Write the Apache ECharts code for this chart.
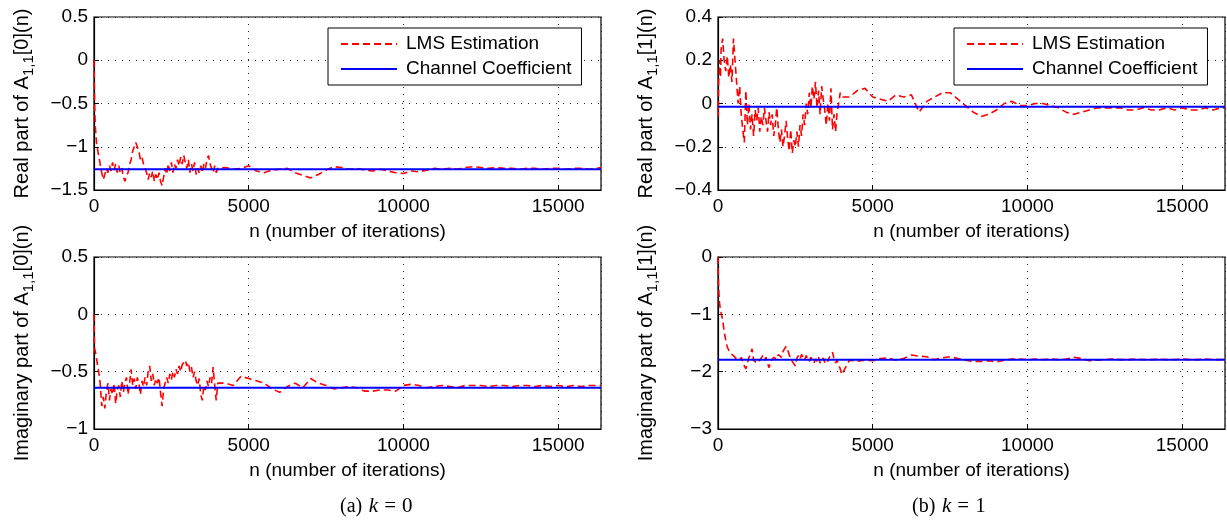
<!DOCTYPE html>
<html>
<head>
<meta charset="utf-8">
<script src="https://cdn.jsdelivr.net/npm/echarts@6/dist/echarts.min.js"></script>
<style>
  html, body { margin: 0; padding: 0; background: #fff; }
  #chart { width: 1227px; height: 527px; }
</style>
</head>
<body>
<div id="chart"></div>
<script>
// iteration index n (shared by all four panels)
const iters = [
  0, 10, 20, 40, 60, 80, 100,
  150, 200, 250, 300, 350, 400, 450, 500, 550, 600,
  650, 700, 750, 800, 850, 900, 950, 1000, 1050, 1100,
  1150, 1200, 1250, 1300, 1350, 1400, 1450, 1500, 1550, 1600,
  1650, 1700, 1750, 1800, 1850, 1900, 1950, 2000, 2050, 2100,
  2150, 2200, 2250, 2300, 2350, 2400, 2450, 2500, 2550, 2600,
  2650, 2700, 2750, 2800, 2850, 2900, 2950, 3000, 3050, 3100,
  3150, 3200, 3250, 3300, 3350, 3400, 3450, 3500, 3550, 3600,
  3650, 3700, 3750, 3800, 3850, 3900, 3950, 4000,
  4250, 4500, 4750, 5000, 5250, 5500, 5750, 6000, 6250, 6500,
  6750, 7000, 7250, 7500, 7750, 8000, 8250, 8500, 8750, 9000,
  9250, 9500, 9750, 10000, 10250, 10500, 10750, 11000, 11250, 11500,
  11750, 12000, 12250, 12500, 12750, 13000, 13250, 13500, 13750, 14000,
  14250, 14500, 14750, 15000, 15250, 15500, 15750, 16000, 16250,
  16384
]

// LMS estimate, real part, k = 0
const lmsRe0 = [
  0, -0.25, -0.5, -0.75, -0.85, -0.95, -1.0,
  -1.1, -1.2, -1.3, -1.38, -1.32, -1.25, -1.3, -1.22, -1.28, -1.18,
  -1.27, -1.2, -1.3, -1.22, -1.3, -1.25, -1.35, -1.4, -1.33, -1.3,
  -1.2, -1.15, -1.05, -1.0, -0.95, -0.93, -1.05, -1.15, -1.12, -1.2,
  -1.18, -1.3, -1.38, -1.3, -1.35, -1.28, -1.4, -1.32, -1.38, -1.3,
  -1.4, -1.45, -1.35, -1.25, -1.32, -1.2, -1.28, -1.18, -1.3, -1.2,
  -1.25, -1.15, -1.22, -1.12, -1.2, -1.1, -1.18, -1.25, -1.15, -1.3,
  -1.2, -1.28, -1.18, -1.32, -1.25, -1.3, -1.22, -1.3, -1.2, -1.25,
  -1.15, -1.1, -1.2, -1.25, -1.3, -1.22, -1.3, -1.25,
  -1.24, -1.26, -1.25, -1.22, -1.28, -1.3, -1.27, -1.26, -1.25, -1.3,
  -1.33, -1.36, -1.32, -1.27, -1.23, -1.24, -1.26, -1.25, -1.27, -1.28,
  -1.26, -1.28, -1.3, -1.31, -1.28, -1.29, -1.27, -1.25, -1.26, -1.25,
  -1.26, -1.24, -1.23, -1.24, -1.25, -1.24, -1.25, -1.25, -1.26, -1.25,
  -1.25, -1.26, -1.25, -1.25, -1.26, -1.25, -1.25, -1.26, -1.25,
  -1.24
]

// LMS estimate, imaginary part, k = 0
const lmsIm0 = [
  0, -0.2, -0.3, -0.32, -0.35, -0.38, -0.42,
  -0.5, -0.6, -0.8, -0.72, -0.82, -0.68, -0.6, -0.75, -0.65, -0.7,
  -0.6, -0.78, -0.66, -0.62, -0.72, -0.58, -0.68, -0.6, -0.55, -0.7,
  -0.6, -0.48, -0.62, -0.56, -0.65, -0.55, -0.6, -0.7, -0.58, -0.63,
  -0.55, -0.62, -0.5, -0.45, -0.58, -0.52, -0.62, -0.56, -0.6, -0.55,
  -0.68, -0.8, -0.65, -0.6, -0.55, -0.6, -0.52, -0.57, -0.5, -0.55,
  -0.48, -0.52, -0.45, -0.5, -0.44, -0.42, -0.4, -0.45, -0.42, -0.5,
  -0.46, -0.55, -0.5, -0.58, -0.62, -0.56, -0.7, -0.75, -0.62, -0.66,
  -0.58, -0.63, -0.55, -0.6, -0.46, -0.62, -0.75, -0.6,
  -0.6, -0.62, -0.54, -0.56, -0.58, -0.6, -0.65, -0.68, -0.63, -0.6,
  -0.64, -0.56, -0.6, -0.62, -0.65, -0.64, -0.63, -0.64, -0.67, -0.67,
  -0.66, -0.66, -0.67, -0.62, -0.61, -0.62, -0.64, -0.63, -0.62, -0.63,
  -0.64, -0.62, -0.62, -0.62, -0.63, -0.62, -0.62, -0.63, -0.62, -0.62,
  -0.63, -0.62, -0.63, -0.62, -0.63, -0.62, -0.63, -0.62, -0.62,
  -0.62
]

// LMS estimate, real part, k = 1
const lmsRe1 = [
  0, -0.06, 0.1, 0.15, 0.2, 0.12, 0.25,
  0.3, 0.2, 0.15, 0.22, 0.12, 0.18, 0.1, 0.3, 0.2, 0.1,
  0.0, 0.08, -0.05, -0.12, -0.18, 0.06, -0.1, 0.0, -0.12, -0.05,
  -0.15, -0.03, -0.08, -0.02, -0.13, -0.06, -0.1, -0.02, -0.08, -0.13,
  -0.04, -0.1, -0.05, -0.15, -0.1, -0.02, -0.12, -0.18, -0.12, -0.2,
  -0.15, -0.08, -0.16, -0.22, -0.12, -0.23, -0.17, -0.2, -0.13, -0.2,
  -0.1, -0.15, -0.05, -0.1, 0.0, -0.05, 0.05, -0.02, 0.08, 0.02,
  0.1, -0.02, 0.06, -0.05, 0.08, 0.02, -0.03, -0.1, 0.0, -0.08,
  0.07, -0.12, -0.05, -0.13, -0.04, 0.0, 0.05, 0.03,
  0.03, 0.06, 0.07, 0.03, 0.02, 0.01, 0.04, 0.03, 0.04, -0.04,
  0.01, 0.03, 0.05, 0.05, 0.02, -0.01, -0.04, -0.06, -0.05, -0.03,
  0.0, 0.01, -0.01, -0.01, 0.0, 0.0, -0.01, -0.02, -0.04, -0.05,
  -0.04, -0.03, -0.02, -0.02, -0.02, -0.02, -0.03, -0.03, -0.02, -0.03,
  -0.03, -0.02, -0.03, -0.02, -0.03, -0.03, -0.02, -0.03, -0.02,
  -0.02
]

// LMS estimate, imaginary part, k = 1
const lmsIm1 = [
  0, -0.3, -0.5, -0.75, -0.85, -0.92, -0.97,
  -1.1, -1.3, -1.45, -1.57, -1.63, -1.68, -1.7, -1.72, -1.75, -1.78,
  -1.76, -1.8, -1.75, -1.82, -1.9, -1.95, -1.85, -1.75, -1.7, -1.6,
  -1.8, -1.78, -1.85, -1.88, -1.8, -1.78, -1.72, -1.8, -1.75, -1.85,
  -1.93, -1.82, -1.8, -1.75, -1.72, -1.78, -1.7, -1.68, -1.75, -1.65,
  -1.6, -1.56, -1.62, -1.7, -1.78, -1.82, -1.85, -1.9, -1.76, -1.72,
  -1.78, -1.7, -1.75, -1.8, -1.72, -1.78, -1.82, -1.75, -1.8, -1.85,
  -1.78, -1.82, -1.75, -1.85, -1.8, -1.76, -1.84, -1.78, -1.82, -1.75,
  -1.7, -1.66, -1.78, -1.85, -1.8, -1.88, -1.95, -2.05,
  -1.8, -1.82, -1.8, -1.81, -1.77, -1.76, -1.8, -1.77, -1.71, -1.73,
  -1.74, -1.79, -1.76, -1.74, -1.77, -1.8, -1.82, -1.82, -1.81, -1.83,
  -1.8, -1.78, -1.78, -1.79, -1.78, -1.79, -1.78, -1.79, -1.78, -1.75,
  -1.77, -1.81, -1.8, -1.79, -1.78, -1.79, -1.79, -1.78, -1.79, -1.79,
  -1.78, -1.79, -1.79, -1.78, -1.79, -1.79, -1.78, -1.79, -1.79,
  -1.78
]

// true channel coefficients [re k=0, im k=0, re k=1, im k=1]
const channelCoef = [-1.26, -0.64, -0.015, -1.79]
const nMax = 16384

const FONT = '"Liberation Sans", Arial, Helvetica, sans-serif'
const SERIF = '"Liberation Serif", "DejaVu Serif", serif'

function pairs(values) {
  return iters.map((n, i) => [n, values[i]])
}

function minusSign(v) {
  return String(v).replace('-', '\u2212')
}

function makeX(gridIndex) {
  return {
    type: 'value',
    gridIndex: gridIndex,
    min: 0,
    max: nMax,
    interval: 5000,
    name: 'n (number of iterations)',
    nameLocation: 'middle',
    nameGap: 32,
    nameTextStyle: { color: '#000', fontSize: 19, fontFamily: FONT },
    axisLine: { show: true, onZero: false, lineStyle: { color: '#000', width: 1.2 } },
    axisTick: { show: true, inside: true, length: 5, lineStyle: { color: '#000' } },
    axisLabel: {
      color: '#000', fontSize: 19, fontFamily: FONT, margin: 7, showMaxLabel: false,
      formatter: v => String(v)
    },
    splitLine: { show: true, lineStyle: { color: '#222', type: [1, 6], width: 1 } }
  }
}

function makeY(gridIndex, min, max, interval, part, k) {
  return {
    type: 'value',
    gridIndex: gridIndex,
    min: min,
    max: max,
    interval: interval,
    name: '{t|' + part + ' part of A}{s|1,1}{t|[' + k + '](n)}',
    nameLocation: 'middle',
    nameRotate: 90,
    nameGap: 58,
    nameMoveOverlap: false,
    nameTextStyle: {
      color: '#000',
      rich: {
        t: { fontSize: 20, fontFamily: FONT, color: '#000' },
        s: { fontSize: 15, fontFamily: FONT, color: '#000', padding: [12, 0, 0, 0] }
      }
    },
    axisLine: { show: true, onZero: false, lineStyle: { color: '#000', width: 1.2 } },
    axisTick: { show: true, inside: true, length: 5, lineStyle: { color: '#000' } },
    axisLabel: { color: '#000', fontSize: 19, fontFamily: FONT, margin: 6, formatter: minusSign },
    splitLine: { show: true, lineStyle: { color: '#222', type: [1, 6], width: 1 } }
  }
}

function lmsSeries(idx, values) {
  return {
    name: 'LMS Estimation',
    type: 'line',
    xAxisIndex: idx,
    yAxisIndex: idx,
    data: pairs(values),
    symbol: 'none',
    lineStyle: { color: '#ff0000', width: 1.6, type: [7, 4] },
    itemStyle: { color: '#ff0000' },
    z: 2
  }
}

function coefSeries(idx) {
  return {
    name: 'Channel Coefficient',
    type: 'line',
    xAxisIndex: idx,
    yAxisIndex: idx,
    data: [[0, channelCoef[idx]], [nMax, channelCoef[idx]]],
    symbol: 'none',
    lineStyle: { color: '#0000ff', width: 2 },
    itemStyle: { color: '#0000ff' },
    z: 3
  }
}

function makeLegend(left) {
  return {
    left: left,
    top: 28,
    orient: 'vertical',
    data: ['LMS Estimation', 'Channel Coefficient'],
    backgroundColor: '#fff',
    borderColor: '#000',
    borderWidth: 1,
    borderRadius: 0,
    padding: [6, 10, 6, 12],
    itemWidth: 56,
    itemHeight: 14,
    itemGap: 5,
    selectedMode: false,
    itemStyle: { opacity: 0 },
    textStyle: { color: '#000', fontSize: 19, fontFamily: FONT, lineHeight: 20, padding: [0, 0, 0, 4] }
  }
}

function caption(left, tag, k) {
  return {
    type: 'text',
    left: left,
    top: 496,
    style: {
      text: '{a|(' + tag + ')}  {k|k}{e|=}{e|' + k + '}',
      rich: {
        a: { fontSize: 20, fontFamily: SERIF, fill: '#000' },
        k: { fontSize: 21, fontFamily: SERIF, fontStyle: 'italic', fill: '#000' },
        e: { fontSize: 21, fontFamily: SERIF, fill: '#000', padding: [0, 0, 0, 6] }
      }
    }
  }
}

const chart = echarts.init(document.getElementById('chart'))

chart.setOption({
  animation: false,
  backgroundColor: '#fff',
  textStyle: { fontFamily: FONT },
  grid: [
    { left: 94, top: 17, width: 507, height: 173, show: true, borderColor: '#000', borderWidth: 1.2, outerBoundsMode: 'none' },
    { left: 94, top: 257, width: 507, height: 172, show: true, borderColor: '#000', borderWidth: 1.2, outerBoundsMode: 'none' },
    { left: 718, top: 17, width: 507, height: 173, show: true, borderColor: '#000', borderWidth: 1.2, outerBoundsMode: 'none' },
    { left: 718, top: 257, width: 507, height: 172, show: true, borderColor: '#000', borderWidth: 1.2, outerBoundsMode: 'none' }
  ],
  xAxis: [makeX(0), makeX(1), makeX(2), makeX(3)],
  yAxis: [
    makeY(0, -1.5, 0.5, 0.5, 'Real', 0),
    makeY(1, -1, 0.5, 0.5, 'Imaginary', 0),
    makeY(2, -0.4, 0.4, 0.2, 'Real', 1),
    makeY(3, -3, 0, 1, 'Imaginary', 1)
  ],
  legend: [makeLegend(328), makeLegend(954)],
  graphic: [caption(340, 'a', 0), caption(912, 'b', 1)],
  series: [
    lmsSeries(0, lmsRe0), coefSeries(0),
    lmsSeries(1, lmsIm0), coefSeries(1),
    lmsSeries(2, lmsRe1), coefSeries(2),
    lmsSeries(3, lmsIm1), coefSeries(3)
  ]
})
</script>
</body>
</html>
